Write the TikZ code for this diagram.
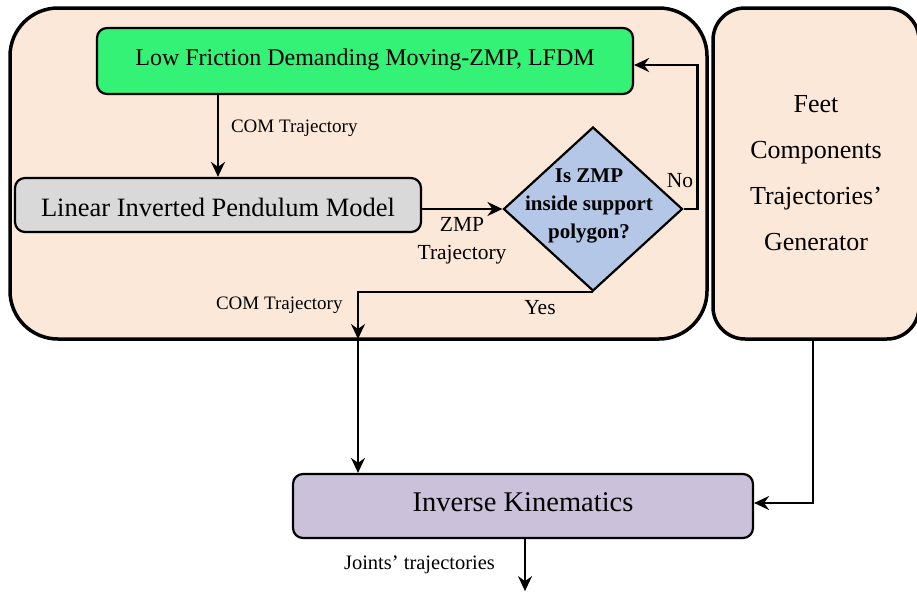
\documentclass[tikz,border=0pt]{standalone}
\usepackage{fontspec}
\setmainfont{Liberation Serif}
\usetikzlibrary{arrows.meta,shapes.geometric}
\definecolor{peach}{RGB}{252,232,217}
\definecolor{lfdmgreen}{RGB}{52,242,118}
\definecolor{lipmgrey}{RGB}{217,217,217}
\definecolor{askblue}{RGB}{180,199,231}
\definecolor{ikpurple}{RGB}{204,193,218}
\begin{document}
\begin{tikzpicture}[x=1pt,y=-1pt,
  panel/.style={draw=black, line width=3.5pt, fill=peach, rounded corners=48pt,
    inner sep=0pt, outer sep=0pt},
  stepbox/.style={draw=black, line width=2.2pt, rounded corners=10pt, inner sep=0pt},
  arr/.style={line width=2.1pt, -{Stealth[length=15pt,width=14pt,inset=5pt]}},
  lbl/.style={inner sep=0pt, font=\fontsize{19}{22}\selectfont},
  mid/.style={inner sep=0pt, font=\fontsize{21.5}{28}\selectfont}
]
\useasboundingbox (0,0) rectangle (917,595);

% panels
\node[panel, minimum width=697pt, minimum height=331pt] (outer) at (358.5,173.5) {};
\node[panel, rounded corners=32pt, minimum width=206pt, minimum height=331pt,
  align=center, font=\fontsize{26}{46}\selectfont] (feet) at (816,173.5)
  {Feet\\Components\\Trajectories’\\Generator};

% blocks
\node[stepbox, fill=lfdmgreen, minimum width=536pt, minimum height=66pt,
  text height=16pt, text depth=8pt, font=\fontsize{24}{28}\selectfont]
  (lfdm) at (365,61) {Low Friction Demanding Moving-ZMP, LFDM};
\node[stepbox, fill=lipmgrey, minimum width=406pt, minimum height=54pt,
  text height=22pt, text depth=0pt, font=\fontsize{26.5}{30}\selectfont]
  (lipm) at (218,205) {Linear Inverted Pendulum Model};
\node[draw=black, line width=2.2pt, fill=askblue, diamond, inner sep=0pt,
  minimum width=179pt, minimum height=164pt] (q) at (593,209) {};
\node[align=center, inner sep=0pt, font=\bfseries\fontsize{21}{28}\selectfont]
  (qtext) at (589,205.5) {Is ZMP\\inside support\\polygon?};
\node[stepbox, fill=ikpurple, minimum width=460pt, minimum height=64pt,
  text height=19pt, text depth=7.6pt, font=\fontsize{28.5}{32}\selectfont]
  (ik) at (523,506) {Inverse Kinematics};

% routing points
\coordinate (comx) at (358,0);
\coordinate (nox) at (697.5,65);
\coordinate (fx) at (813.3,0);
\coordinate (jx) at (525,0);

% connectors
\draw[arr] (lfdm.south -| lipm.north) -- (lipm.north)
  node[lbl, anchor=base west] at (230,132) {COM Trajectory};
\draw[arr] (lipm.east |- q.west) -- (q.west)
  node[mid, align=center] at (462,241) {ZMP\\Trajectory};
\draw[arr] (q.east) -| (nox) -- (nox -| lfdm.east)
  node[mid, anchor=base] at (680,187) {No};
\draw[arr] (q.south) -| (outer.south -| comx)
  node[mid, anchor=base] at (540,314) {Yes}
  node[lbl, anchor=base west] at (215,309) {COM Trajectory};
\draw[arr] (outer.south -| comx) -- (ik.north -| comx);
\draw[arr] (feet.south -| fx) |- ([yshift=3pt]ik.east);
\draw[arr] (ik.south -| jx) -- ++(0,52)
  node[lbl, anchor=base west, font=\fontsize{20.5}{24}\selectfont] at (343,569) {Joints’ trajectories};
\end{tikzpicture}
\end{document}
